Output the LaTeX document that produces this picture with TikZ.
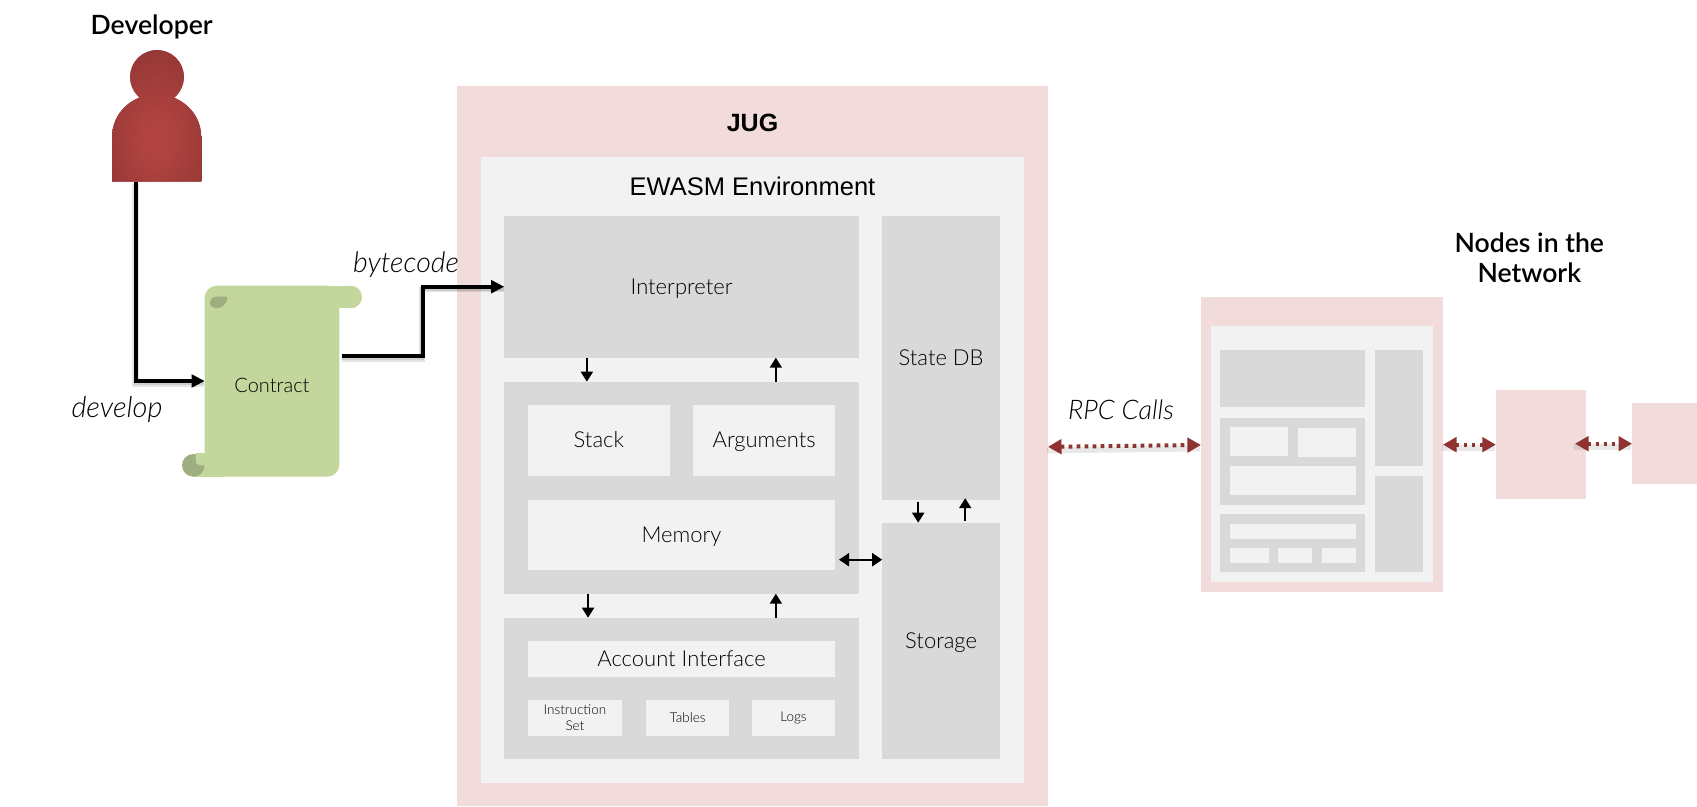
\documentclass[tikz,border=0pt]{standalone}
\usepackage{fontspec}
\setmainfont{Lato Light}[ItalicFont={Lato Light Italic},BoldFont={Lato Semibold}]
\newfontfamily\hv{Liberation Sans}
\usetikzlibrary{arrows.meta,calc}
\definecolor{outerpink}{HTML}{F1DBDB}
\definecolor{lightbox}{HTML}{F2F2F2}
\definecolor{greybox}{HTML}{D9D9D9}
\definecolor{scrollgreen}{HTML}{C3D69B}
\definecolor{scrolldark}{HTML}{9DAE7F}
\definecolor{linkred}{HTML}{8E3232}
\definecolor{personmid}{HTML}{B04340}
\definecolor{personedge}{HTML}{873230}
\pgfdeclareradialshading{personshade}{\pgfpoint{0bp}{-10bp}}{color(0bp)=(personmid); color(8bp)=(personmid); color(46bp)=(personedge); color(100bp)=(personedge)}
\newcommand\bx[7][]{\node[#2,minimum width=#5pt-#3pt,minimum height=#6pt-#4pt,#1] (#7) at ({(#3+#5)/2},{(#4+#6)/2}) {};}
\newcommand\tbx[8][]{\node[#2,minimum width=#5pt-#3pt,minimum height=#6pt-#4pt,#1] (#7) at ({(#3+#5)/2},{(#4+#6)/2}) {#8};}
\tikzset{
  pinkbox/.style={fill=outerpink,draw=none,inner sep=0pt,outer sep=0pt},
  lightb/.style={fill=lightbox,draw=none,inner sep=0pt,outer sep=0pt,text=black},
  greyb/.style={fill=greybox,draw=none,inner sep=0pt,outer sep=0pt,text=black},
  lab/.style={font=\fontsize{22}{26}\selectfont,text height=15pt,text depth=0pt},
  smalllab/.style={font=\fontsize{13.5}{15.5}\selectfont,align=center},
  smallarrow/.style={line width=1.9pt,-{Triangle[length=10pt,width=12pt]}},
  bothsmall/.style={line width=1.9pt,{Triangle[length=10pt,width=13pt]}-{Triangle[length=10pt,width=13pt]}},
  flow/.style={line width=3.6pt,-{Triangle[length=13pt,width=12.5pt]},
    preaction={draw=black,opacity=.10,line width=6.5pt,-,transform canvas={shift={(-.5pt,-2.5pt)}}},
    preaction={draw=black,opacity=.10,line width=4pt,-,transform canvas={shift={(-.5pt,-2pt)}}}},
  rpc/.style={draw=linkred,line width=4pt,dash pattern=on 3.8pt off 4.2pt,
    {Triangle[length=13.5pt,width=14.5pt,fill=linkred,color=linkred]}-{Triangle[length=13.5pt,width=14.5pt,fill=linkred,color=linkred]},
    preaction={draw=black,opacity=.09,line width=6pt,solid,-,transform canvas={shift={(-1pt,-3.5pt)}}}},
  txt/.style={inner sep=0pt,outer sep=0pt,align=center,text=black},
  italab/.style={txt,font=\itshape\fontsize{27}{31}\selectfont,anchor=base},
  headlab/.style={txt,font=\bfseries\fontsize{26.6}{30}\selectfont},
}
\begin{document}
\begin{tikzpicture}[x=1pt,y=-1pt]
\useasboundingbox (0,0) rectangle (1697,806);
% JUG
\bx{pinkbox}{457}{85.7}{1048}{806}{jug}
\bx{lightb}{481}{157}{1024}{782.7}{ewasm}
\node[txt,font=\hv\bfseries\fontsize{25}{29}\selectfont] (jugt) at (752.5,123) {JUG};
\node[txt,font=\hv\fontsize{25.5}{30}\selectfont] (ewt) at (752.5,186.7) {EWASM Environment};
\tbx[lab]{greyb}{504.2}{215.7}{858.9}{357.7}{interp}{Interpreter}
\tbx[lab]{greyb}{882.2}{215.7}{1000}{499.7}{state}{State DB}
\tbx[lab]{greyb}{882.2}{522.7}{1000}{758.7}{storage}{Storage}
\bx{greyb}{504.2}{381.7}{858.9}{593.7}{mid}
\tbx[lab]{lightb}{527.9}{405}{669.8}{475.7}{stack}{Stack}
\tbx[lab]{lightb}{693.2}{405}{835.1}{475.7}{args}{Arguments}
\tbx[lab]{lightb}{527.9}{500}{835.1}{569.7}{mem}{Memory}
\bx{greyb}{504.2}{617.7}{858.9}{758.7}{acct}
\tbx[lab]{lightb}{527.9}{641}{835.1}{676.7}{ai}{Account Interface}
\tbx[smalllab]{lightb}{527.9}{699.7}{622}{735.7}{iset}{Instruction\\Set}
\tbx[smalllab]{lightb}{646}{699.7}{729.2}{735.7}{tables}{Tables}
\tbx[smalllab]{lightb}{752}{699.7}{835.1}{735.7}{logs}{Logs}
% internal arrows
\draw[smallarrow] ([xshift=-94.7pt]interp.south) -- ([xshift=-94.7pt]mid.north);
\draw[smallarrow] ([xshift=94.3pt]mid.north) -- ([xshift=94.3pt]interp.south);
\draw[smallarrow] ([xshift=-93.5pt]mid.south) -- ([xshift=-93.5pt]acct.north);
\draw[smallarrow] ([xshift=94.3pt]acct.north) -- ([xshift=94.3pt]mid.south);
\draw[smallarrow] ([xshift=-22.9pt,yshift=-2pt]state.south) -- ([xshift=-22.9pt]storage.north);
\draw[smallarrow] ([xshift=24.1pt,yshift=1.5pt]storage.north) -- ([xshift=24.1pt,yshift=1.5pt]state.south);
\coordinate (memr) at (839,559.7);
\draw[bothsmall] (memr) -- (memr -| storage.west);
% Person
\path[fill=personedge] (157,77) circle (26.8)
  (112.2,181.5) -- (112.2,136.7) .. controls (112.2,113) and (132,94.5) .. (156.7,94.5) .. controls (181,94.5) and (201.1,113) .. (201.1,136.7) -- (201.1,181.5) -- cycle;
\path[shading=personshade] (157,77) circle (27)
  (112,181.7) -- (112,136.7) .. controls (112,113) and (132,94.3) .. (156.7,94.3) .. controls (181,94.3) and (201.3,113) .. (201.3,136.7) -- (201.3,181.7) -- cycle;
\node[inner sep=0pt,outer sep=0pt,minimum width=89.3pt,minimum height=131.7pt] (person) at (156.7,115.85) {};
\node[headlab] (devt) at (151.7,26.5) {Developer};
% Scroll
\fill[scrollgreen,rounded corners=12pt] (204.7,476.7) -- (204.7,285.7) -- (339.3,285.7) -- (339.3,476.7) -- cycle;
\fill[scrollgreen] (193.3,454) rectangle (225,476.7);
\fill[scrollgreen] (320,285.7) rectangle (350.7,308.3);
\fill[scrollgreen] (350.7,297) circle (11.3);
\fill[scrolldark] (193.3,465.3) circle (11.3);
\fill[scrollgreen] (195.7,453) -- (205,453) -- (205,465.3) -- (199.5,465.3) .. controls (196.5,465) and (195.4,462) .. (195.7,459.5) -- cycle;
\fill[scrolldark] (227.3,296.7) -- (217,296.7) .. controls (212,296.7) and (210,300) .. (210,303) .. controls (210,306) and (213,308.3) .. (216,308.3) .. controls (222,308.3) and (227.3,304) .. (227.3,296.7) -- cycle;
\node[inner sep=0pt,outer sep=0pt,minimum width=134.6pt,minimum height=182pt,text=black,font=\fontsize{20}{24}\selectfont] (contract) at (272,385.7) {Contract};
% Connectors
\draw[flow] ([xshift=-20.7pt]person.south) |- ([yshift=4.7pt]contract.west);
\draw[flow] ([xshift=2.7pt,yshift=29.7pt]contract.east) -- ++(80.7,0) |- (interp.west);
\node[italab,font=\itshape\fontsize{29}{33}\selectfont] (dev) at (117,417.5) {develop};
\node[italab,font=\itshape\fontsize{28.5}{33}\selectfont] (byc) at (406,272.5) {bytecode};
% Nodes
\bx{pinkbox}{1200.9}{297}{1443}{591.7}{na}
\bx{lightb}{1210.9}{326}{1433}{581.7}{nai}
\bx{greyb}{1220.1}{350}{1365.1}{407.3}{n1}
\bx{greyb}{1375.1}{350}{1422.9}{465.7}{n2}
\bx{greyb}{1375.1}{476}{1422.9}{571.7}{n3}
\bx{greyb}{1220.1}{418}{1365.1}{504.7}{n4}
\bx{lightb}{1229.8}{427}{1288}{455.7}{n5}
\bx{lightb}{1298}{428}{1355.9}{456.7}{n6}
\bx{lightb}{1229.8}{466}{1355.9}{494.7}{n7}
\bx{greyb}{1220.1}{514}{1365.1}{571.7}{n8}
\bx{lightb}{1229.8}{523.7}{1355.9}{538.7}{n9}
\bx{lightb}{1229.8}{548}{1269.2}{562.7}{n10}
\bx{lightb}{1278}{548}{1311.9}{562.7}{n11}
\bx{lightb}{1321.9}{548}{1355.9}{562.7}{n12}
\bx{pinkbox}{1495.8}{390}{1585.9}{499.3}{nb}
\bx{pinkbox}{1632}{403}{1720}{484.3}{nc}
\node[headlab] (nt) at (1529.3,257.7) {Nodes in the\\Network};
\node[italab] (rpct) at (1121,419) {RPC Calls};
\draw[rpc] ([yshift=-1pt]jug.east) -- ([yshift=-.6pt]na.west);
\draw[rpc] ([yshift=-.3pt]na.east) -- (nb.west);
\coordinate (nbr) at (1575,443.7);
\draw[rpc] (nbr) -- (nbr -| nc.west);
\end{tikzpicture}
\end{document}
